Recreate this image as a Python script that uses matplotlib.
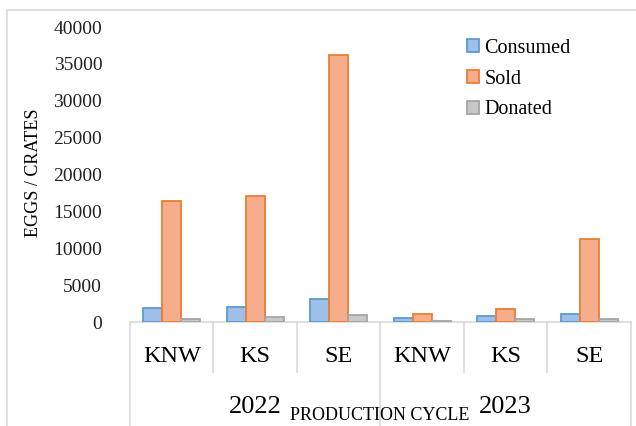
import matplotlib
matplotlib.use("Agg")
import matplotlib.pyplot as plt
from matplotlib.patches import Rectangle
import numpy as np

regions = ["KNW", "KS", "SE", "KNW", "KS", "SE"]
years = ["2022", "2023"]
consumed = [1860, 2030, 3080, 500, 810, 1080]
sold = [16450, 17080, 36200, 1080, 1760, 11210]
donated = [400, 640, 950, 180, 450, 370]
series_names = ["Consumed", "Sold", "Donated"]

face = ["#9dbfe8", "#f6ad8c", "#c8c8c8"]
edge = ["#5b9bd5", "#ed7d31", "#a5a5a5"]

plt.rcParams['font.family'] = ['Liberation Serif', 'DejaVu Serif']

fig = plt.figure(figsize=(6.36, 4.26), dpi=100)
ax = fig.add_axes([0.2044, 0.244, 0.7877, 0.6925])

# outer chart border
fig.patches.append(Rectangle((7/636, -0.1), 1.2, (426-10)/426 + 0.1, transform=fig.transFigure,
                             fill=False, edgecolor="#d9d9d9", linewidth=1.2))

x = np.arange(len(regions))
w = 0.228
for i, vals in enumerate([consumed, sold, donated]):
    ax.bar(x + (i - 1) * w, vals, width=w, color=face[i], edgecolor=edge[i],
           linewidth=1.3, label=series_names[i], zorder=3)

ax.set_xlim(-0.5, 5.5)
ax.set_ylim(0, 40000)
ax.set_yticks(np.arange(0, 40001, 5000))
ax.tick_params(axis='y', length=0, labelsize=14, pad=20, labelcolor="#222222")
ax.tick_params(axis='x', length=0, labelbottom=False)
for s in ["top", "right", "left"]:
    ax.spines[s].set_visible(False)
ax.spines["bottom"].set_color("#d9d9d9")
ax.spines["bottom"].set_linewidth(1.2)

ax.set_ylabel("EGGS / CRATES", fontsize=13)
ax.yaxis.set_label_coords(-0.176, 0.505)

trans = ax.get_xaxis_transform()
for xi, lab in zip(x, regions):
    ax.text(xi, -0.118, lab, transform=trans, ha="center", va="center", fontsize=17.5)
for b in [0.5, 1.5, 3.5, 4.5]:
    ax.plot([b, b], [0, -0.17], transform=trans, color="#d9d9d9", lw=1.2, clip_on=False)
for b in [-0.5, 2.5, 5.5]:
    ax.plot([b, b], [0, -0.36], transform=trans, color="#d9d9d9", lw=1.2, clip_on=False)
ax.text(1.0, -0.288, years[0], transform=trans, ha="center", va="center", fontsize=19)
ax.text(4.0, -0.288, years[1], transform=trans, ha="center", va="center", fontsize=19)
fig.text(380/636, 1 - 415/426, "PRODUCTION CYCLE", ha="center", va="center", fontsize=13)

fig.legend(loc="upper left", bbox_to_anchor=(467/636, 1 - 39/426), frameon=False,
           fontsize=14.5, handlelength=0.62, handleheight=0.62, handletextpad=0.25,
           labelspacing=0.58, borderpad=0, borderaxespad=0)

fig.savefig("out.png", dpi=100)
